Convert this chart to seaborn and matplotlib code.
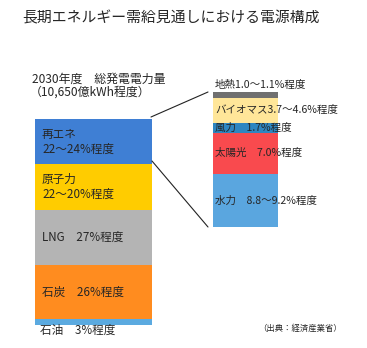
import numpy as np
import pandas as pd
import matplotlib
matplotlib.use("Agg")
import matplotlib.pyplot as plt
from matplotlib.lines import Line2D
import seaborn as sns

sns.set_style("white")
plt.rcParams['font.family'] = ['Noto Sans CJK JP', 'DejaVu Sans']

# ---- data ----
title = "長期エネルギー需給見通しにおける電源構成"
header1 = "2030年度　総発電電力量"
header2 = "（10,650億kWh程度）"
source = "（出典：経済産業省）"

# left bar, from bottom to top
left_names = ["石油", "石炭", "LNG", "原子力", "再エネ"]
left_values = [3, 26, 27, 22, 22]
left_labels = ["石油　3%程度", "石炭　26%程度", "LNG　27%程度",
               "原子力\n22〜20%程度", "再エネ\n22〜24%程度"]
left_colors = ["#5BAAE0", "#FF8C1F", "#B4B4B4", "#FFCC00", "#3F7FD4"]

# right bar (breakdown of renewables), from bottom to top
right_names = ["水力", "太陽光", "風力", "バイオマス", "地熱"]
right_values = [9.0, 7.0, 1.7, 4.15, 1.05]
right_labels = ["水力　8.8〜9.2%程度", "太陽光　7.0%程度", "風力　1.7%程度",
                "バイオマス3.7〜4.6%程度", "地熱1.0〜1.1%程度"]
right_colors = ["#5AA6DF", "#F94A4E", "#2E86C1", "#FFE699", "#707070"]

W, H = 367, 348
fig = plt.figure(figsize=(W / 100, H / 100), dpi=100)


def px_axes(x0, y0, x1, y1):
    return fig.add_axes([x0 / W, 1 - y1 / H, (x1 - x0) / W, (y1 - y0) / H])


def stacked(ax, names, values, colors):
    cum = np.cumsum(values)
    df = pd.DataFrame({"seg": names, "top": cum, "x": [""] * len(names)})
    # draw from the largest cumulative top down so lower segments overlay
    for i in range(len(names) - 1, -1, -1):
        sub = df.iloc[[i]]
        sns.barplot(data=sub, x="x", y="top", color=colors[i], saturation=1,
                    width=1.0, linewidth=0, ax=ax, errorbar=None)
    ax.set_xlim(-0.5, 0.5)
    ax.set_ylim(0, cum[-1])
    ax.set_axis_off()
    return cum


# left stacked bar
axL = px_axes(35, 119, 152, 325)
cumL = stacked(axL, left_names, left_values, left_colors)
for i, lab in enumerate(left_labels):
    bottom = cumL[i] - left_values[i]
    if left_names[i] == "石油":
        axL.text(5 / 117, -2.6, lab, fontsize=8.4, va="center", ha="left",
                 transform=axL.get_yaxis_transform(), clip_on=False)
    else:
        axL.text(7 / 117, bottom + left_values[i] / 2, lab, fontsize=8.4,
                 va="center", ha="left", linespacing=1.15,
                 transform=axL.get_yaxis_transform(), clip_on=False)

# right stacked bar
axR = px_axes(213, 92, 278, 227)
cumR = stacked(axR, right_names, right_values, right_colors)
for i, lab in enumerate(right_labels):
    bottom = cumR[i] - right_values[i]
    if right_names[i] == "地熱":
        yv = cumR[i] + 1.2
    else:
        yv = bottom + right_values[i] / 2
    axR.text(2 / 65, yv, lab, fontsize=7.6, va="center", ha="left",
             transform=axR.get_yaxis_transform(), clip_on=False)

# connecting lines (figure pixel coords)
def fline(x0, y0, x1, y1):
    fig.add_artist(Line2D([x0 / W, x1 / W], [1 - y0 / H, 1 - y1 / H],
                          color="#222222", lw=0.8, transform=fig.transFigure))

fline(151, 117, 208, 92)
fline(152, 161, 208, 227)

# texts
fig.text(22 / W, 1 - 18 / H, title, fontsize=10.7, va="center", ha="left")
fig.text(32 / W, 1 - 79 / H, header1, fontsize=8.6, va="center", ha="left")
fig.text(30 / W, 1 - 92 / H, header2, fontsize=8.6, va="center", ha="left")
fig.text(258 / W, 1 - 328 / H, source, fontsize=6.0, va="center", ha="left")

fig.savefig("out.png", dpi=100)
